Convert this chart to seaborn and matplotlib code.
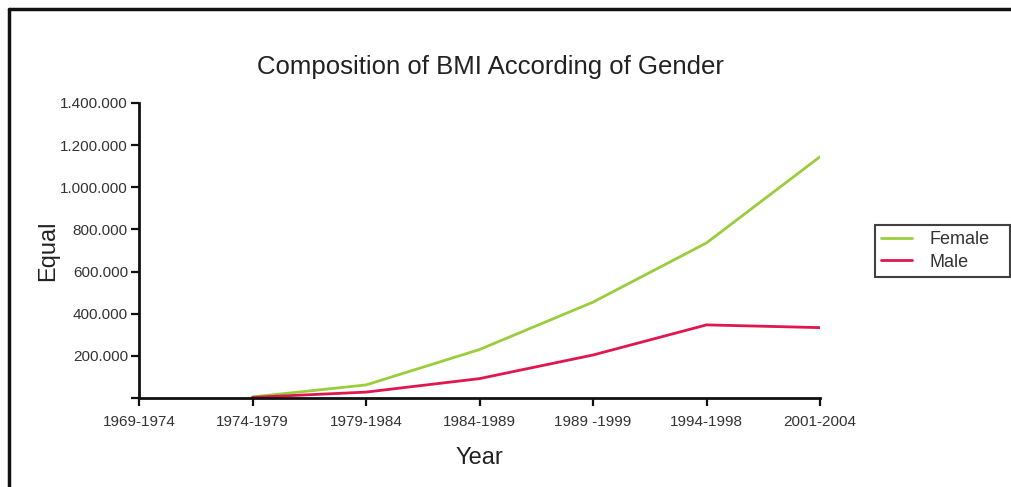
import matplotlib
matplotlib.use("Agg")
import matplotlib.pyplot as plt
import matplotlib.ticker as mticker
from matplotlib.lines import Line2D
import numpy as np
import pandas as pd
import seaborn as sns

# Periods on the x axis and the BMI counts per gender
periods = ["1969-1974", "1974-1979", "1979-1984", "1984-1989",
           "1989 -1999", "1994-1998", "2001-2004"]
female = [np.nan, 5000, 62000, 230000, 455000, 736000, 1145000]
male = [np.nan, 3000, 28000, 92000, 204000, 347000, 334000]
y_ticks = [0, 200000, 400000, 600000, 800000, 1000000, 1200000, 1400000]
y_tick_labels = ["", "200.000", "400.000", "600.000", "800.000",
                 "1.000.000", "1.200.000", "1.400.000"]

colors = {"Female": "#9acd3c", "Male": "#e0164f"}

df = pd.DataFrame({
    "pos": list(range(len(periods))) * 2,
    "value": female + male,
    "Gender": ["Female"] * len(periods) + ["Male"] * len(periods),
})

sns.set_theme(style="white")
plt.rcParams["font.family"] = ["Liberation Sans", "DejaVu Sans"]

fig = plt.figure(figsize=(10.11, 4.87), dpi=100)
ax = fig.add_axes([139 / 1011, 1 - 398 / 487, 681 / 1011, 295 / 487])

sns.lineplot(data=df, x="pos", y="value", hue="Gender", palette=colors,
             linewidth=2, ax=ax, legend=False)

ax.set_xlim(0, len(periods) - 1)
ax.set_ylim(0, 1400000)
ax.set_xticks(range(len(periods)))
ax.set_xticklabels(periods)
ax.yaxis.set_major_locator(mticker.FixedLocator(y_ticks))
ax.set_yticklabels(y_tick_labels)

for side in ("top", "right"):
    ax.spines[side].set_visible(False)
for side in ("left", "bottom"):
    ax.spines[side].set_color("#111111")
    ax.spines[side].set_linewidth(2)
ax.tick_params(axis="both", direction="out", length=6, width=1.6,
               color="#111111", labelsize=11, labelcolor="#333333", pad=2,
               bottom=True, left=True)
ax.tick_params(axis="x", pad=6)

ax.set_xlabel("Year", fontsize=17, color="#222222", labelpad=13)
ax.set_ylabel("Equal", fontsize=17, color="#222222", labelpad=1)

fig.text(490 / 1011, 1 - 67 / 487, "Composition of BMI According of Gender",
         ha="center", va="center", fontsize=18.5, color="#222222")

handles = [Line2D([], [], color=colors[g], lw=2) for g in ("Female", "Male")]
leg = fig.legend(handles, ["Female", "Male"], loc="upper left",
                 bbox_to_anchor=(875 / 1011, 1 - 278 / 487, 135 / 1011, 53 / 487),
                 mode="expand",
                 frameon=True, fancybox=False, fontsize=13,
                 handlelength=1.7, handletextpad=0.95, labelspacing=0.3,
                 borderpad=0.35, borderaxespad=0)
leg.get_frame().set_edgecolor("#111111")
leg.get_frame().set_linewidth(1.5)
for t in leg.get_texts():
    t.set_color("#333333")

# Outer frame along the top and left edges
fig.add_artist(Line2D([9 / 1011, 1.0], [1 - 9 / 487, 1 - 9 / 487],
                      transform=fig.transFigure, color="#111111", lw=2.5))
fig.add_artist(Line2D([9 / 1011, 9 / 1011], [0, 1 - 9 / 487],
                      transform=fig.transFigure, color="#111111", lw=2.5))

fig.savefig("out.png", dpi=100)
